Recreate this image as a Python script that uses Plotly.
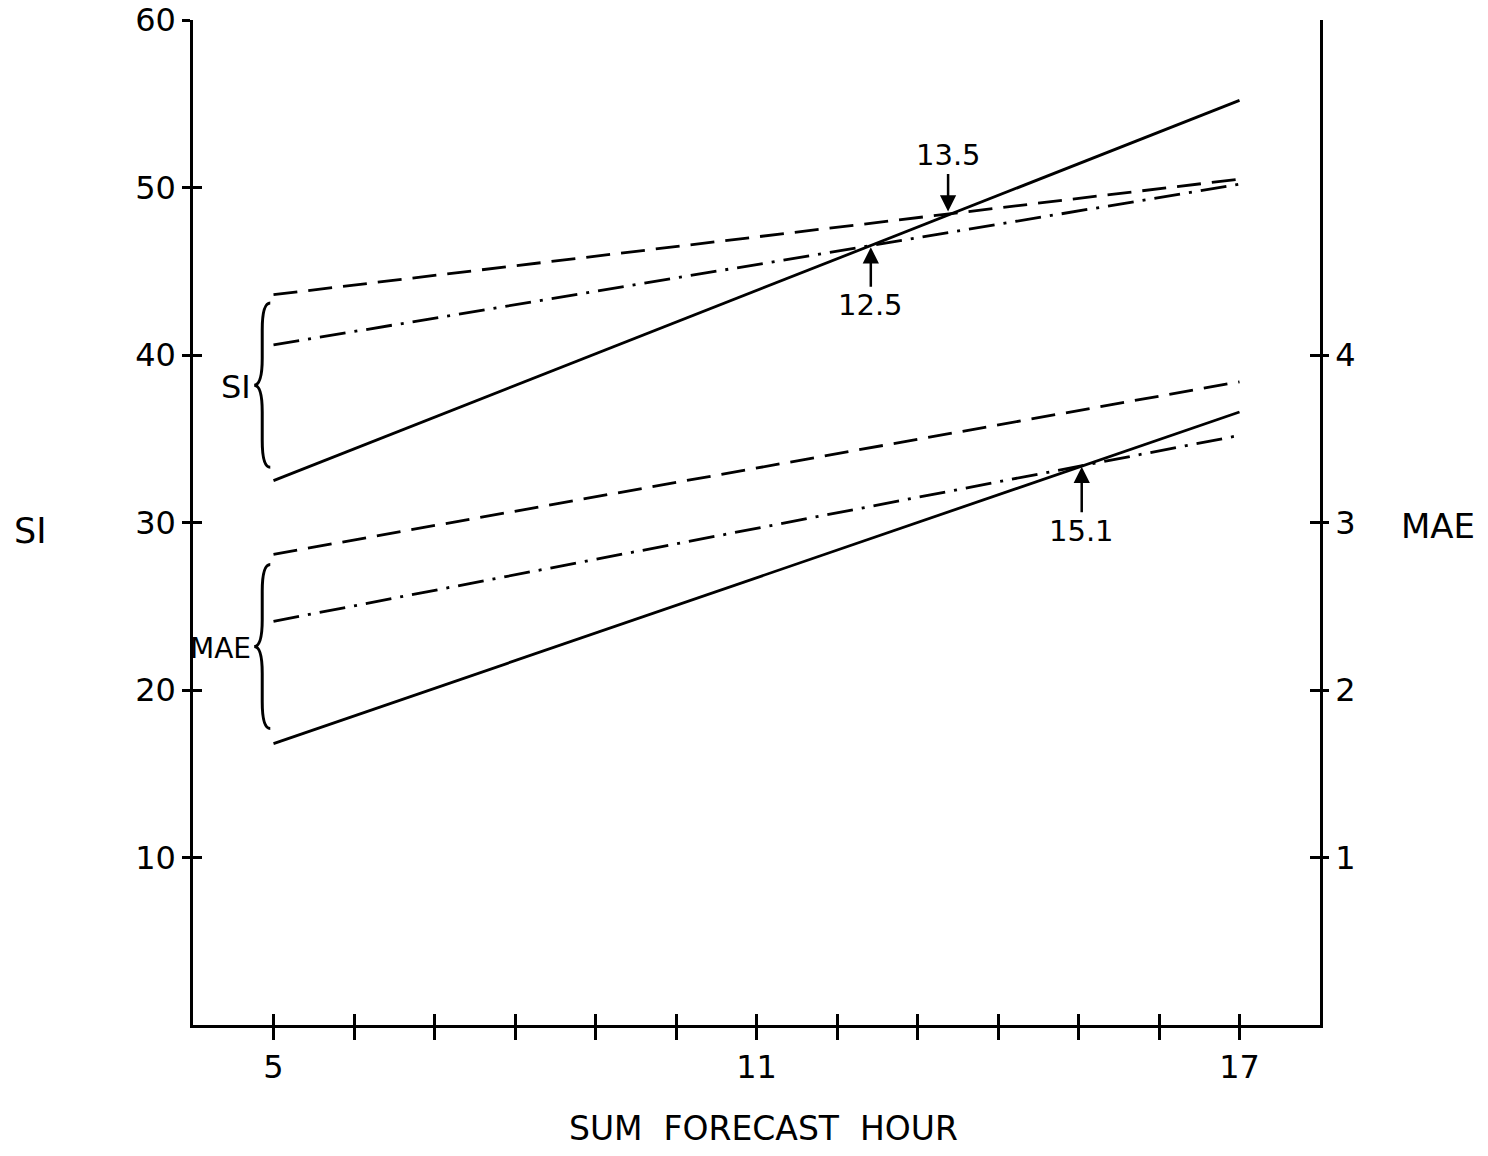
import plotly.graph_objects as go

# ---- data ----
hours = [5, 17]
si_solid = [32.5, 55.2]
si_dash = [43.6, 50.5]
si_dashdot = [40.6, 50.2]
mae_dash = [2.81, 3.84]
mae_dashdot = [2.41, 3.52]
mae_solid = [1.68, 3.66]

x_ticks = list(range(5, 18))
x_labels = ["5", "", "", "", "", "", "11", "", "", "", "", "", "17"]
si_ticks = [10, 20, 30, 40, 50, 60]
mae_ticks = [1, 2, 3, 4]

# crossing annotations: (label, x position, y on SI scale, pixel offset)
cross_labels = ["13.5", "12.5", "15.1"]
cross_x = [13.38, 12.42, 15.04]
cross_y = [48.45, 46.55, 33.45]
cross_ay = [-58, 60, 66]

FONT = "DejaVu Sans"
LW = 2.8
DASH = "24px,11px"
DASHDOT = "26px,9px,3px,9px"

fig = go.Figure()

def add_line(y, dash, axis):
    fig.add_trace(go.Scatter(x=hours, y=y, mode="lines", yaxis=axis,
                             line=dict(color="black", width=LW, dash=dash),
                             showlegend=False, hoverinfo="skip"))

add_line(si_solid, "solid", "y")
add_line(si_dash, DASH, "y")
add_line(si_dashdot, DASHDOT, "y")
add_line(mae_dash, DASH, "y2")
add_line(mae_dashdot, DASHDOT, "y2")
add_line(mae_solid, "solid", "y2")

# dummy traces so overlay axes (used for crossing tick marks) render
fig.add_trace(go.Scatter(x=[None], y=[None], xaxis="x3", yaxis="y3",
                         showlegend=False, hoverinfo="skip"))
fig.add_trace(go.Scatter(x=[None], y=[None], xaxis="x", yaxis="y4",
                         showlegend=False, hoverinfo="skip"))

tickfont = dict(family=FONT, size=32, color="black")

fig.update_layout(
    width=1472, height=1140,
    margin=dict(l=185, r=160, t=12, b=123, autoexpand=False),
    paper_bgcolor="white", plot_bgcolor="white",
    showlegend=False,
    xaxis=dict(range=[4, 18], tickvals=x_ticks, ticktext=x_labels,
               ticks="outside", ticklen=12, tickwidth=2.5, tickcolor="black",
               showline=True, linewidth=2.5, linecolor="black",
               showgrid=False, zeroline=False, tickfont=tickfont,
               ticklabelstandoff=0, automargin=False,
               ticklabeloverflow="allow"),
    xaxis3=dict(range=[4, 18], overlaying="x", anchor="y", side="bottom",
                tickvals=x_ticks, ticks="inside", ticklen=11, tickwidth=2.5,
                tickcolor="black", showticklabels=False, showline=False,
                showgrid=False, zeroline=False, automargin=False),
    yaxis=dict(range=[0, 60], tickvals=si_ticks, ticks="outside", ticklen=8,
               tickwidth=2.5, tickcolor="black", showline=True, linewidth=2.5,
               linecolor="black", showgrid=False, zeroline=False,
               tickfont=tickfont, ticklabelstandoff=0, automargin=False,
               ticklabeloverflow="allow"),
    yaxis3=dict(range=[0, 60], overlaying="y", anchor="x3", side="left",
                tickvals=si_ticks, ticks="inside", ticklen=9, tickwidth=2.5,
                tickcolor="black", showticklabels=False, showline=False,
                showgrid=False, zeroline=False, automargin=False),
    yaxis2=dict(range=[0, 6], overlaying="y", anchor="x", side="right",
                tickvals=mae_ticks, ticks="outside", ticklen=6, tickwidth=2.5,
                tickcolor="black", showline=True, linewidth=2.5,
                linecolor="black", showgrid=False, zeroline=False,
                tickfont=tickfont, ticklabelstandoff=0, automargin=False,
                ticklabeloverflow="allow"),
    yaxis4=dict(range=[0, 6], overlaying="y", anchor="x", side="right",
                tickvals=mae_ticks, ticks="inside", ticklen=10, tickwidth=2.5,
                tickcolor="black", showticklabels=False, showline=False,
                showgrid=False, zeroline=False, automargin=False),
)

# axis titles
titlefont = dict(family=FONT, size=35, color="black")
fig.add_annotation(text="SI", xref="paper", yref="paper", x=-0.1445, y=0.492,
                   xanchor="center", yanchor="middle",
                   showarrow=False, font=titlefont)
fig.add_annotation(text="MAE", xref="paper", yref="paper", x=1.07, y=0.497,
                   xanchor="left", yanchor="middle", showarrow=False,
                   font=dict(family=FONT, size=34, color="black"))
fig.add_annotation(text="SUM  FORECAST  HOUR", xref="paper", yref="paper",
                   x=0.506, y=-0.1025, xanchor="center", yanchor="middle",
                   showarrow=False, font=dict(family=FONT, size=33, color="black"))

# crossing arrows
for lab, cx, cy, ay in zip(cross_labels, cross_x, cross_y, cross_ay):
    fig.add_annotation(text=lab, x=cx, y=cy, xref="x", yref="y",
                       showarrow=True, arrowhead=2, arrowsize=1.3,
                       arrowwidth=2.5, arrowcolor="black", ax=0, ay=ay,
                       standoff=2, font=dict(family=FONT, size=29, color="black"))

# braces
def brace(y_top, y_bot, x_end=4.96, x_spine=4.86, x_tip=4.76, d=1.6):
    ym = (y_top + y_bot) / 2
    return (f"M {x_end},{y_top} Q {x_spine},{y_top} {x_spine},{y_top - d} "
            f"L {x_spine},{ym + d} Q {x_spine},{ym} {x_tip},{ym} "
            f"Q {x_spine},{ym} {x_spine},{ym - d} "
            f"L {x_spine},{y_bot + d} Q {x_spine},{y_bot} {x_end},{y_bot}")

brace_groups = ["SI", "MAE"]
brace_top = [43.1, 27.5]
brace_bot = [33.3, 17.7]
brace_font = [32, 28]
for name, yt, yb, fs in zip(brace_groups, brace_top, brace_bot, brace_font):
    fig.add_shape(type="path", path=brace(yt, yb), xref="x", yref="y",
                  line=dict(color="black", width=3))
    fig.add_annotation(text=name, x=4.75, y=(yt + yb) / 2 - 0.1, xref="x",
                       yref="y", xanchor="right", showarrow=False,
                       font=dict(family=FONT, size=fs, color="black"))

fig.write_html("out.html")
